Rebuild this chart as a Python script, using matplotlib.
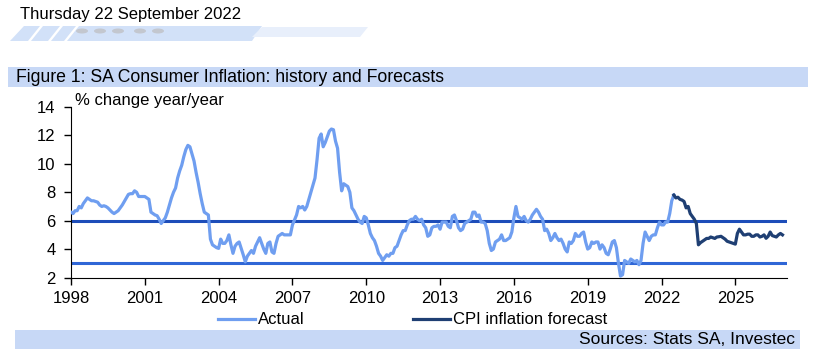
import numpy as np
import matplotlib
matplotlib.use('Agg')
import matplotlib.pyplot as plt
from matplotlib.patches import Rectangle, Polygon, Ellipse

plt.rcParams['font.family'] = ['Liberation Sans', 'DejaVu Sans']


# Actual CPI, % y/y, monthly from Jan 1998
a1998 = [6.6, 6.5, 6.7, 6.7, 7.0, 6.9, 7.2, 7.4, 7.6, 7.5, 7.4, 7.4]
a1999 = [7.35, 7.3, 7.1, 7.0, 7.05, 7.0, 6.9, 6.75, 6.6, 6.5, 6.6, 6.7]
a2000 = [6.9, 7.1, 7.35, 7.6, 7.85, 7.9, 7.9, 8.1, 8.0, 7.7, 7.7, 7.7]
a2001 = [7.7, 7.6, 7.5, 6.6, 6.5, 6.4, 6.35, 6.1, 5.8, 6.0, 6.2, 6.6]
a2002 = [7.1, 7.6, 8.0, 8.3, 9.0, 9.5, 9.9, 10.5, 11.0, 11.3, 11.2, 10.7]
a2003 = [10.2, 9.4, 8.7, 7.9, 7.2, 6.6, 6.5, 6.4, 4.7, 4.3, 4.2, 4.1]
a2004 = [4.05, 4.7, 4.4, 4.4, 4.6, 5.0, 4.3, 3.7, 4.2, 4.4, 4.5, 4.05]
a2005 = [3.6, 3.1, 3.5, 3.7, 3.9, 3.7, 4.2, 4.5, 4.8, 4.4, 4.0, 3.7]
a2006 = [4.4, 4.5, 3.8, 3.7, 4.4, 4.9, 5.0, 5.1, 5.0, 5.0, 5.0, 5.0]
a2007 = [5.7, 6.05, 6.4, 7.0, 6.9, 7.0, 6.75, 7.0, 7.5, 8.0, 8.5, 9.0]
a2008 = [10.3, 11.8, 12.1, 11.2, 11.5, 11.9, 12.3, 12.45, 12.4, 11.6, 11.1, 9.4]
a2009 = [8.1, 8.6, 8.5, 8.4, 8.0, 6.9, 6.7, 6.4, 6.1, 5.9, 5.8, 6.3]
a2010 = [6.2, 5.7, 5.1, 4.8, 4.6, 4.2, 3.7, 3.5, 3.2, 3.4, 3.6, 3.5]
a2011 = [3.7, 3.7, 4.1, 4.2, 4.6, 5.0, 5.3, 5.3, 5.7, 6.0, 6.1, 6.1]
a2012 = [6.3, 6.1, 6.0, 6.1, 5.7, 5.5, 4.9, 5.0, 5.5, 5.6, 5.6, 5.7]
a2013 = [5.4, 5.9, 5.9, 5.9, 5.6, 5.5, 6.3, 6.4, 6.0, 5.5, 5.3, 5.4]
a2014 = [5.8, 5.9, 6.0, 6.1, 6.6, 6.6, 6.3, 6.4, 5.9, 5.9, 5.8, 5.3]
a2015 = [4.4, 3.9, 4.0, 4.5, 4.6, 4.7, 5.0, 4.6, 4.6, 4.7, 4.8, 5.2]
a2016 = [6.2, 7.0, 6.3, 6.2, 6.1, 6.3, 6.0, 5.9, 6.1, 6.4, 6.6, 6.8]
a2017 = [6.6, 6.3, 6.1, 5.3, 5.4, 5.1, 4.6, 4.8, 5.1, 4.8, 4.6, 4.7]
a2018 = [4.4, 4.0, 3.8, 4.5, 4.4, 4.6, 5.1, 4.9, 4.9, 5.1, 5.2, 4.5]
a2019 = [4.0, 4.1, 4.5, 4.4, 4.5, 4.5, 4.0, 4.3, 4.1, 3.7, 3.6, 4.0]
a2020 = [4.5, 4.6, 4.1, 3.0, 2.1, 2.2, 3.2, 3.1, 3.0, 3.3, 3.2, 3.1]
a2021 = [3.2, 2.9, 3.2, 4.4, 5.2, 4.9, 4.6, 4.9, 5.0, 5.0, 5.5, 5.9]
a2022 = [5.7, 5.7, 5.9, 5.9, 6.5, 7.4, 7.8]

# Forecast, monthly from Jul 2022
f2022 = [7.8, 7.6, 7.65, 7.5, 7.45, 7.35]
f2023 = [6.9, 7.0, 6.5, 6.3, 6.1, 5.8, 4.3, 4.45, 4.55, 4.65, 4.75, 4.75]
f2024 = [4.85, 4.8, 4.75, 4.85, 4.87, 4.9, 4.8, 4.7, 4.55, 4.5, 4.45, 4.4]
f2025 = [4.35, 5.1, 5.4, 5.2, 5.0, 5.0, 5.05, 5.05, 4.9, 4.9, 5.0, 5.0]
f2026 = [4.85, 4.9, 5.0, 4.76, 4.9, 5.2, 4.95, 4.9, 4.85, 5.0, 5.1, 5.0]

x_ticks = [1998, 2001, 2004, 2007, 2010, 2013, 2016, 2019, 2022, 2025]
y_ticks = [2, 4, 6, 8, 10, 12, 14]
target_upper = 6
target_lower = 3

actual = (a1998 + a1999 + a2000 + a2001 + a2002 + a2003 + a2004 + a2005 + a2006
          + a2007 + a2008 + a2009 + a2010 + a2011 + a2012 + a2013 + a2014
          + a2015 + a2016 + a2017 + a2018 + a2019 + a2020 + a2021 + a2022)
forecast = f2022 + f2023 + f2024 + f2025 + f2026
actual_x = 1998 + np.arange(len(actual)) / 12
forecast_x = 2022 + (6 + np.arange(len(forecast))) / 12


fig = plt.figure(figsize=(8.17, 3.56), dpi=100)

# Page decorations in pixel coords
bg = fig.add_axes([0, 0, 1, 1], zorder=0)
bg.set_xlim(0, 817)
bg.set_ylim(356, 0)
bg.axis('off')
bg.add_patch(Polygon([(10, 41), (24, 26), (262, 26), (252, 41)], color='#d2e1f8', lw=0))
bg.add_patch(Polygon([(252, 37), (262, 27), (368, 27), (360, 37)], color='#e8effb', lw=0))
for x0 in [28, 48, 64]:
    bg.add_patch(Polygon([(x0, 41), (x0 + 12, 26), (x0 + 15, 26), (x0 + 3, 41)], color='white', lw=0))
for cx in [82, 100, 118, 140, 158]:
    bg.add_patch(Ellipse((cx, 31), 12, 5, color='#c3c7cf', lw=0))
bg.add_patch(Rectangle((8, 67), 800, 20, color='#c7d8f6', lw=0))
bg.add_patch(Rectangle((15, 330), 785, 19, color='#c7d8f6', lw=0))
bg.text(20, 14, 'Thursday 22 September 2022', fontsize=12, va='center', ha='left')
bg.text(16, 77.5, 'Figure 1: SA Consumer Inflation: history and Forecasts', fontsize=12.7, va='center', ha='left')
bg.text(795, 340, 'Sources: Stats SA, Investec', fontsize=12.5, va='center', ha='right')
bg.text(75, 100, '% change year/year', fontsize=12, va='center', ha='left')

# Chart
ax = fig.add_axes([71 / 817, 1 - 277.5 / 356, 716 / 817, 170.5 / 356], zorder=1)
ax.patch.set_alpha(0)
ax.axhline(target_upper, color='#1d4db9', lw=2.2, zorder=2)
ax.axhline(target_lower, color='#2f66d6', lw=2.2, zorder=2)
ax.plot(actual_x, actual, color='#6f9ef0', lw=2.3, label='Actual', zorder=3)
ax.plot(forecast_x, forecast, color='#1f3f73', lw=2.3, label='CPI inflation forecast', zorder=4)

ax.set_xlim(1998, 2027.1)
ax.set_ylim(2, 14)
ax.set_xticks(x_ticks)
ax.set_yticks(y_ticks)
ax.tick_params(axis='x', labelsize=12, length=5, width=1, direction='out', pad=5)
ax.tick_params(axis='y', labelsize=12, length=5, width=1, direction='out', pad=6)
for s in ['top', 'right']:
    ax.spines[s].set_visible(False)

fig.legend(loc='center', bbox_to_anchor=(413 / 817, 1 - 320 / 356), ncol=2, frameon=False,
           fontsize=12, handlelength=2.2, handletextpad=0.2, columnspacing=6.5)

fig.savefig('out.png', dpi=100)
